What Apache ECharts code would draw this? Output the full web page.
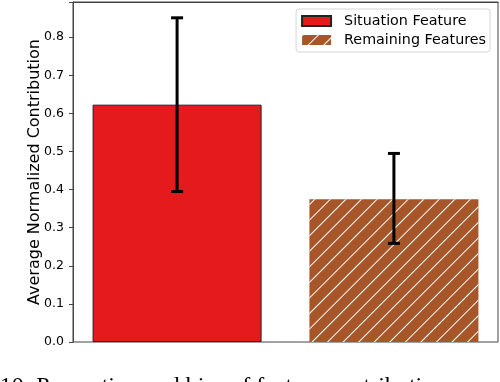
<!DOCTYPE html>
<html>
<head>
<meta charset="utf-8">
<script src="https://cdn.jsdelivr.net/npm/echarts@6/dist/echarts.min.js"></script>
<style>
  html, body { margin: 0; padding: 0; background: #fff; }
  #chart { width: 500px; height: 382px; }
</style>
</head>
<body>
<div id="chart"></div>
<script>
// values
const categories = ['Situation Feature', 'Remaining Features'];
const means = [0.623, 0.375];
const errLow = [0.395, 0.259];
const errHigh = [0.851, 0.495];
const colors = ['#e41a1c', '#a65628'];
const yMax = 0.8925;
const caption = 'Figure 10: Proportion and bias of feature contribution';

const chart = echarts.init(document.getElementById('chart'));

const barSeries = categories.map((name, i) => ({
  name: name,
  type: 'bar',
  data: [[i, means[i]]],
  barWidth: 169,
  barGap: '-100%',
  itemStyle: i === 0
    ? { color: colors[i], borderColor: '#222', borderWidth: 1 }
    : {
        color: colors[i],
        decal: {
          symbol: 'rect',
          color: '#ffffff',
          dashArrayX: [1, 0],
          dashArrayY: [1, 9.4],
          rotation: -Math.PI / 4
        }
      },
  emphasis: { disabled: true }
}));

// error bars, drawn through the axes
const errSeries = {
  type: 'custom',
  z: 10,
  data: means.map((_, i) => [i, errLow[i], errHigh[i]]),
  renderItem: function (params, api) {
    const lo = api.coord([api.value(0), api.value(1)]);
    const hi = api.coord([api.value(0), api.value(2)]);
    const cap = 6;
    const style = { stroke: '#000', lineWidth: 3 };
    return {
      type: 'group',
      children: [
        { type: 'line', shape: { x1: lo[0], y1: lo[1], x2: hi[0], y2: hi[1] }, style: style },
        { type: 'line', shape: { x1: lo[0] - cap, y1: lo[1], x2: lo[0] + cap, y2: lo[1] }, style: style },
        { type: 'line', shape: { x1: hi[0] - cap, y1: hi[1], x2: hi[0] + cap, y2: hi[1] }, style: style }
      ]
    };
  }
};

const frameAxis = {
  type: 'value',
  min: -0.48, max: 1.48,
  axisTick: { show: false },
  axisLabel: { show: false },
  splitLine: { show: false }
};

chart.setOption({
  animation: false,
  textStyle: { fontFamily: 'DejaVu Sans' },
  grid: {
    left: 73, right: 2, top: 2, bottom: 40,
    show: true, borderColor: '#444', borderWidth: 1
  },
  legend: {
    data: categories,
    right: 10, top: 9,
    orient: 'vertical',
    icon: 'rect',
    itemWidth: 29, itemHeight: 10, itemGap: 5,
    padding: [5, 4, 5, 5],
    borderColor: '#d6d6d6', borderWidth: 1, borderRadius: 3,
    backgroundColor: '#fff',
    textStyle: { fontSize: 14.3, color: '#000', fontFamily: 'DejaVu Sans', padding: [0, 0, 0, 8] },
    selectedMode: false
  },
  xAxis: [
    Object.assign({}, frameAxis, { axisLine: { show: false } }),
    Object.assign({}, frameAxis, { position: 'top', axisLine: { show: true, onZero: false, lineStyle: { color: '#444' } } })
  ],
  yAxis: {
    type: 'value',
    min: 0, max: yMax, interval: 0.1,
    name: 'Average Normalized Contribution',
    nameLocation: 'middle',
    nameGap: 30,
    nameMoveOverlap: false,
    nameTextStyle: { fontSize: 16, color: '#000', fontFamily: 'DejaVu Sans' },
    axisLine: { show: true, onZero: false, lineStyle: { color: '#444', width: 1 } },
    axisTick: { show: true, length: 4, lineStyle: { color: '#444' } },
    axisLabel: {
      fontSize: 12.5, color: '#000', margin: 9,
      formatter: v => (Math.abs(v * 10 - Math.round(v * 10)) < 1e-6 ? v.toFixed(1) : '')
    },
    splitLine: { show: false }
  },
  graphic: [{
    type: 'text',
    left: -69, top: 375,
    style: { text: caption, font: '24px "Liberation Serif"', fill: '#000' }
  }],
  series: barSeries.concat([errSeries])
});
</script>
</body>
</html>
